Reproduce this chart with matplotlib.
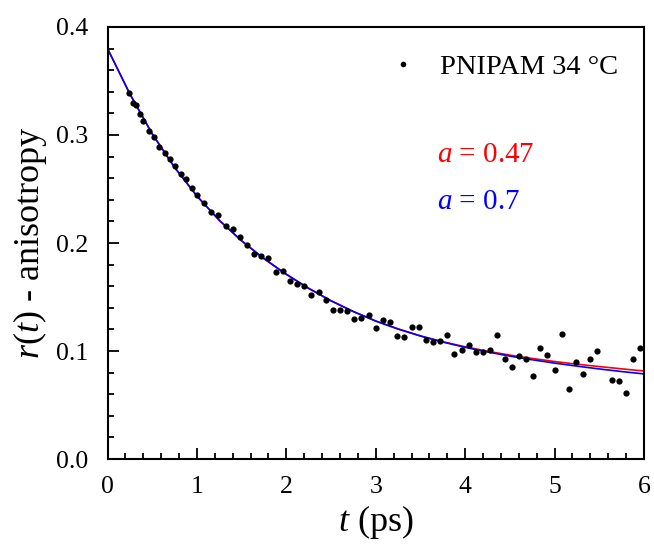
import matplotlib
matplotlib.use("Agg")
import matplotlib.pyplot as plt
from matplotlib.ticker import MultipleLocator

# measured anisotropy decay, PNIPAM 34 C
t_data = [0.24, 0.28, 0.32, 0.36, 0.40, 0.46, 0.52, 0.58, 0.64, 0.70,
          0.76, 0.82, 0.88, 0.94, 1.00, 1.08, 1.16, 1.24, 1.32, 1.40,
          1.48, 1.56, 1.64, 1.72, 1.80, 1.88, 1.96, 2.04, 2.12, 2.20,
          2.28, 2.36, 2.44, 2.52, 2.60, 2.68, 2.76, 2.84, 2.92, 3.00,
          3.08, 3.16, 3.24, 3.32, 3.40, 3.48, 3.56, 3.64, 3.72, 3.80,
          3.88, 3.96, 4.04, 4.12, 4.20, 4.28, 4.36, 4.44, 4.52, 4.60,
          4.68, 4.76, 4.84, 4.92, 5.00, 5.08, 5.16, 5.24, 5.32, 5.40,
          5.48, 5.64, 5.72, 5.80, 5.88, 5.96]
r_data = [0.339, 0.330, 0.3275, 0.319, 0.313, 0.304, 0.298, 0.289, 0.283, 0.278,
          0.271, 0.264, 0.259, 0.251, 0.244, 0.237, 0.229, 0.226, 0.216, 0.213,
          0.206, 0.198, 0.190, 0.188, 0.186, 0.173, 0.174, 0.165, 0.162, 0.160,
          0.152, 0.155, 0.147, 0.138, 0.138, 0.137, 0.130, 0.131, 0.133, 0.121,
          0.129, 0.127, 0.114, 0.113, 0.122, 0.122, 0.110, 0.108, 0.109, 0.115,
          0.097, 0.101, 0.106, 0.099, 0.099, 0.101, 0.115, 0.093, 0.085, 0.095,
          0.093, 0.077, 0.103, 0.096, 0.082, 0.116, 0.065, 0.090, 0.079, 0.093,
          0.100, 0.073, 0.072, 0.061, 0.093, 0.103]

# fit curves
t_fit = [0.0, 0.25, 0.5, 0.75, 1.0, 1.25, 1.5, 1.75, 2.0, 2.25, 2.5, 2.75,
         3.0, 3.25, 3.5, 3.75, 4.0, 4.25, 4.5, 4.75, 5.0, 5.25, 5.5, 5.75, 6.0]
r_fit_047 = [0.380, 0.338, 0.301, 0.270, 0.2435, 0.221, 0.202, 0.1855, 0.171,
             0.158, 0.1465, 0.1365, 0.1278, 0.1205, 0.1140, 0.1086, 0.1039,
             0.0998, 0.0962, 0.0931, 0.0903, 0.0878, 0.0856, 0.0835, 0.0815]
r_fit_07 = [0.380, 0.338, 0.301, 0.270, 0.2435, 0.221, 0.202, 0.1855, 0.171,
            0.158, 0.1465, 0.1365, 0.1277, 0.1203, 0.1139, 0.1083, 0.1034,
            0.0991, 0.0953, 0.0919, 0.0888, 0.0860, 0.0834, 0.0810, 0.0788]

plt.rcParams['font.family'] = ['Liberation Serif', 'DejaVu Serif']
plt.rcParams['mathtext.fontset'] = 'custom'
plt.rcParams['mathtext.rm'] = 'Liberation Serif'
plt.rcParams['mathtext.it'] = 'Liberation Serif:italic'

fig = plt.figure(figsize=(6.54, 5.44), dpi=100)
ax = fig.add_axes([0.1644, 0.1562, 0.8203, 0.7942])

ax.plot(t_fit, r_fit_047, color='red', lw=1.2)
ax.plot(t_fit, r_fit_07, color='blue', lw=1.2)
ax.plot(t_data, r_data, 'o', color='black', ms=4.5, mew=0, label='PNIPAM 34 °C')

ax.set_xlim(0, 6)
ax.set_ylim(0, 0.4)
ax.xaxis.set_major_locator(MultipleLocator(1))
ax.xaxis.set_minor_locator(MultipleLocator(0.2))
ax.yaxis.set_major_locator(MultipleLocator(0.1))
ax.yaxis.set_minor_locator(MultipleLocator(0.02))
ax.yaxis.set_major_formatter(matplotlib.ticker.FormatStrFormatter('%.1f'))
ax.tick_params(which='both', direction='in', width=1.3, labelsize=18.5,
               top=False, right=False)
ax.tick_params(which='major', length=8)
ax.tick_params(which='minor', length=4.5)
ax.tick_params(axis='x', which='major', pad=12)
ax.tick_params(axis='y', which='major', pad=14)
for s in ax.spines.values():
    s.set_linewidth(1.5)

ax.set_xlabel(r'$t$ (ps)', fontsize=26, labelpad=4)
ax.set_ylabel(r'$r$($t$) - anisotropy', fontsize=26, labelpad=5)

ax.legend(loc='upper right', frameon=False, fontsize=20.5, markerscale=0.9,
          handletextpad=0.5, handlelength=1.6,
          bbox_to_anchor=(1.0, 0.997))

ax.text(0.615, 0.687, r'$a$ = 0.47', color='red', fontsize=21,
        transform=ax.transAxes)
ax.text(0.615, 0.578, r'$a$ = 0.7', color='blue', fontsize=21,
        transform=ax.transAxes)

fig.savefig('out.png', dpi=100)
